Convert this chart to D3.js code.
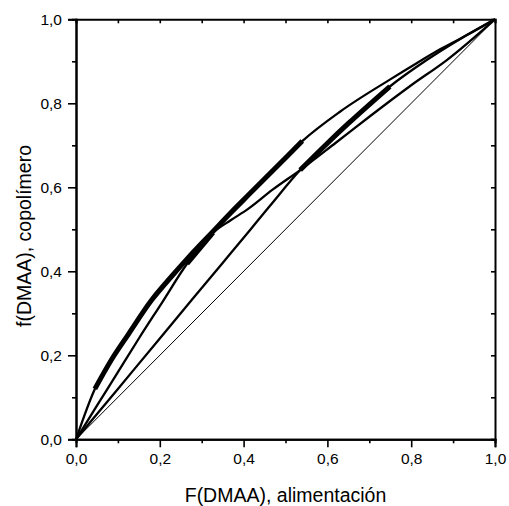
<!DOCTYPE html>
<html lang="es">
<head>
<meta charset="UTF-8">
<title>Composición copolímero</title>
<script src="https://d3js.org/d3.v7.min.js"></script>
<style>
  body { margin: 0; background: #fff; }
  text { font-family: Arial, "Liberation Sans", sans-serif; fill: #000; }
</style>
</head>
<body>
<svg id="main" width="509" height="506"></svg>
<script>
// tick values and labels
const majorTicks = [0, 0.2, 0.4, 0.6, 0.8, 1.0];
const minorTicks = [0.1, 0.3, 0.5, 0.7, 0.9];
const tickLabels = ["0,0", "0,2", "0,4", "0,6", "0,8", "1,0"];

// curves
const curve1X = [0, 0.045, 0.085, 0.125, 0.181, 0.23, 0.27, 0.327, 0.37, 0.415, 0.47, 0.54, 0.63, 0.75, 0.814, 0.87, 0.94, 1];
const curve1Y = [0, 0.12, 0.19, 0.25, 0.332, 0.39, 0.435, 0.495, 0.54, 0.585, 0.64, 0.71, 0.78, 0.857, 0.896, 0.929, 0.966, 1];
const curve2X = [0, 0.05, 0.1, 0.15, 0.205, 0.265, 0.327, 0.37, 0.41, 0.47, 0.535, 0.62, 0.7, 0.8, 0.885, 1];
const curve2Y = [0, 0.08, 0.16, 0.24, 0.325, 0.418, 0.492, 0.522, 0.548, 0.595, 0.641, 0.706, 0.768, 0.843, 0.903, 1];
const curve3X = [0, 0.1, 0.2, 0.279, 0.35, 0.415, 0.463, 0.535, 0.6, 0.65, 0.749, 0.837, 0.92, 1];
const curve3Y = [0, 0.12, 0.24, 0.335, 0.42, 0.498, 0.556, 0.641, 0.705, 0.752, 0.84, 0.903, 0.955, 1];
const diagX = [0, 1];
const diagY = [0, 1];

// thick (experimental) ranges on each curve
const thick1 = [0.045, 0.54];
const thick2 = [0.265, 0.327];
const thick3 = [0.535, 0.749];

const svg = d3.select("svg#main");
const x = d3.scaleLinear().domain([0, 1]).range([76, 495]);
const y = d3.scaleLinear().domain([0, 1]).range([439.3, 19.3]);

const pts = (xs, ys) => xs.map((v, i) => [v, ys[i]]);
const line = d3.line()
    .x(d => x(d[0]))
    .y(d => y(d[1]))
    .curve(d3.curveMonotoneX);

const curves = [
    {p: pts(curve1X, curve1Y), thick: thick1},
    {p: pts(curve2X, curve2Y), thick: thick2},
    {p: pts(curve3X, curve3Y), thick: thick3}
];

const plot = svg.append("g");

plot.append("path")
    .attr("d", line(pts(diagX, diagY)))
    .attr("fill", "none").attr("stroke", "#000").attr("stroke-width", 1);

curves.forEach(c => {
    plot.append("path")
        .attr("d", line(c.p))
        .attr("fill", "none").attr("stroke", "#000").attr("stroke-width", 2.3);
    const seg = c.p.filter(d => d[0] >= c.thick[0] && d[0] <= c.thick[1]);
    plot.append("path")
        .attr("d", line(seg))
        .attr("fill", "none").attr("stroke", "#000").attr("stroke-width", 5);
});

// axes: outward on bottom/left, inward on top/right
const axBottom = svg.append("g").attr("transform", "translate(0,439.3)");
axBottom.call(d3.axisBottom(x).tickValues(majorTicks).tickSize(8).tickPadding(6)
    .tickFormat((d, i) => tickLabels[i]));
axBottom.append("g").call(d3.axisBottom(x).tickValues(minorTicks).tickSize(4).tickFormat(""));

const axLeft = svg.append("g").attr("transform", "translate(76,0)");
axLeft.call(d3.axisLeft(y).tickValues(majorTicks).tickSize(8).tickPadding(6)
    .tickFormat((d, i) => tickLabels[i]));
axLeft.append("g").call(d3.axisLeft(y).tickValues(minorTicks).tickSize(4).tickFormat(""));

const axTop = svg.append("g").attr("transform", "translate(0,19.3)");
axTop.call(d3.axisTop(x).tickValues(majorTicks.concat(minorTicks)).tickSize(-4).tickFormat(""));

const axRight = svg.append("g").attr("transform", "translate(495,0)");
axRight.call(d3.axisRight(y).tickValues(majorTicks.concat(minorTicks)).tickSize(-4).tickFormat(""));

svg.selectAll(".domain").attr("stroke-width", 2);
svg.selectAll(".tick line").attr("stroke-width", 1.6);
svg.selectAll(".tick text").attr("font-size", 15.5)
    .attr("font-family", "Arial, 'Liberation Sans', sans-serif");

svg.append("text")
    .attr("x", x(0.5)).attr("y", 502)
    .attr("text-anchor", "middle").attr("font-size", 19.5)
    .text("F(DMAA), alimentación");

svg.append("text")
    .attr("transform", "translate(31,236) rotate(-90)")
    .attr("text-anchor", "middle").attr("font-size", 19.5)
    .text("f(DMAA), copolímero");
</script>
</body>
</html>
